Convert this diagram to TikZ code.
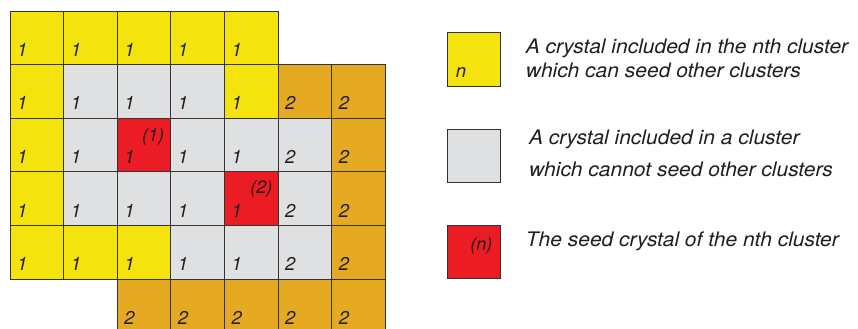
\documentclass[tikz,border=0pt]{standalone}
\usepackage{fontspec}
\setmainfont{TeX Gyre Heros}
\newfontfamily\legfont[FakeStretch=1.05]{TeX Gyre Heros}
\usepackage{tikz}
\usetikzlibrary{positioning}
\definecolor{Seedable}{HTML}{F4E30C}
\definecolor{Member}{HTML}{DFE0E2}
\definecolor{Seed}{HTML}{EC1C24}
\definecolor{Second}{HTML}{E6A922}
\definecolor{Ink}{HTML}{1E1E1E}
\definecolor{Edge}{HTML}{333333}

\begin{document}
\begin{tikzpicture}[x=53.6pt,y=-53.6pt,
  cell/.style={draw=Edge,line width=0.7pt},
  digit/.style={font=\fontsize{18.5}{19}\selectfont\itshape,text=Ink,anchor=base west,inner sep=0pt},
  tag/.style={font=\fontsize{18}{19}\selectfont\itshape,text=Ink,anchor=base east,inner sep=0pt},
  legtext/.style={font=\legfont\fontsize{20}{22}\selectfont\itshape,text=Ink,anchor=base west,inner sep=0pt}]
  \useasboundingbox (-0.187,-0.205) rectangle (15.821,5.933);
  % cells of the grid, by colour
  \foreach \fc/\cells in {
    Seedable/{0/0,1/0,2/0,3/0,4/0,0/1,4/1,0/2,0/3,0/4,1/4,2/4},
    Member/{1/1,2/1,3/1,1/2,3/2,4/2,5/2,1/3,2/3,3/3,5/3,3/4,4/4,5/4},
    Seed/{2/2,4/3},
    Second/{5/1,6/1,6/2,6/3,6/4,2/5,3/5,4/5,5/5,6/5}} {
    \foreach \c/\r in \cells {
      \draw[cell,fill=\fc] (\c,\r) rectangle ++(1,1);
      \pgfmathtruncatemacro\lab{(\c>4 || \r>4) ? 2 : 1}
      \node[digit] (cell-\c-\r) at (\c+0.13,\r+0.845) {\lab};
    }
  }
  \node[tag] (seed1) at (2+0.88,2+0.44) {(1)};
  \node[tag] (seed2) at (4+0.9,3+0.41) {(2)};
  % legend
  \draw[cell,fill=Seedable] (8.153,0.397) rectangle ++(1,1);
  \node[digit] (keyA) at (8.153+0.16,0.397+0.84) {n};
  \node[legtext] (legA1) at (9.62,0.784) {A crystal included in the nth cluster};
  \node[legtext] (legA2) at (9.62,1.25) {which can seed other clusters};
  \draw[cell,fill=Member] (8.153,2.2) rectangle ++(1,1);
  \node[legtext] (legB1) at (9.68,2.5) {A crystal included in a cluster};
  \node[legtext] (legB2) at (9.68,3.097) {which cannot seed other clusters};
  \draw[cell,fill=Seed] (8.153,3.99) rectangle ++(1,1);
  \node[tag] (keyC) at (8.153+0.85,3.99+0.47) {(n)};
  \node[legtext] (legC1) at (9.62,4.4) {The seed crystal of the nth cluster};
\end{tikzpicture}
\end{document}
